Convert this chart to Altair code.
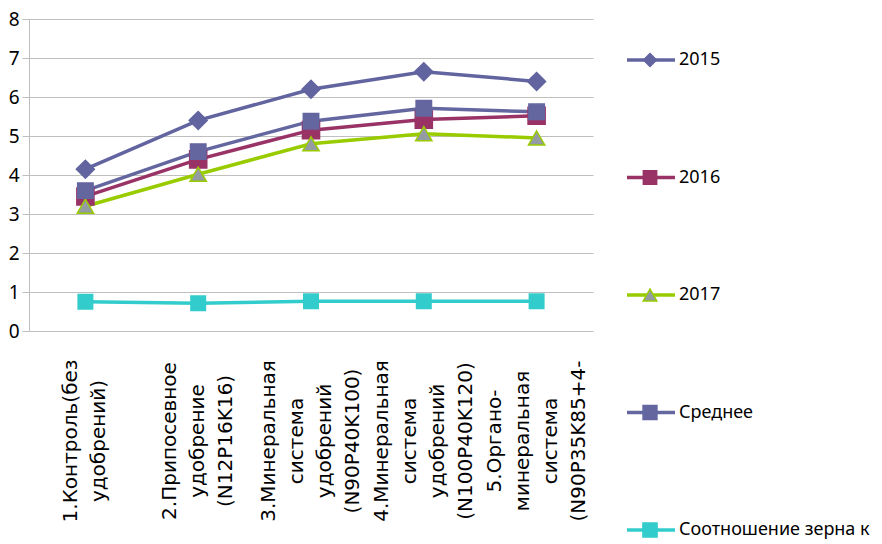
import altair as alt
import pandas as pd

# ---- data ----
label_lines = [
    ["1.Контроль(без", "удобрений)"],
    ["2.Припосевное", "удобрение", "(N12P16K16)"],
    ["3.Минеральная", "система", "удобрений", "(N90P40K100)"],
    ["4.Минеральная", "система", "удобрений", "(N100P40K120)"],
    ["5.Органо-", "минеральная", "система", "(N90P35K85+4-"],
]
categories = [" ".join(l) for l in label_lines]

series_names = ["2015", "2016", "2017", "Среднее", "Соотношение зерна к"]
v2015 = [4.15, 5.40, 6.20, 6.65, 6.40]
v2016 = [3.45, 4.40, 5.15, 5.42, 5.52]
v2017 = [3.20, 4.02, 4.80, 5.06, 4.95]
vavg = [3.60, 4.60, 5.38, 5.71, 5.62]
vratio = [0.75, 0.71, 0.76, 0.76, 0.76]
y_ticks = [0, 1, 2, 3, 4, 5, 6, 7, 8]

# ---- styles ----
line_colors = ["#6264A0", "#993366", "#99CC00", "#6466A0", "#33CCCC"]
fill_colors = ["#6264A0", "#993366", "#959BA3", "#6466A0", "#33CCCC"]
stroke_colors = ["#6264A0", "#993366", "#99CC00", "#6466A0", "#33CCCC"]
shapes = ["diamond", "square", "triangle-up", "square", "square"]
plot_sizes = [320, 210, 290, 480, 440]
legend_sizes = [170, 200, 230, 400, 400]
grid = "#BFBFBF"
LINE_STEP = 28  # spacing of the rotated label lines

rows = []
for si, (name, vals) in enumerate(zip(series_names, [v2015, v2016, v2017, vavg, vratio])):
    for c, v in zip(categories, vals):
        rows.append({"cat": c, "series": name, "value": v, "sidx": si})
df = pd.DataFrame(rows)

lab_rows = []
for c, ls in zip(categories, label_lines):
    n = len(ls)
    for k, t in enumerate(ls):
        lab_rows.append({"cat": c, "line": t, "off": (k - (n - 1) / 2) * LINE_STEP})
lab_df = pd.DataFrame(lab_rows)

line_scale = alt.Scale(domain=series_names, range=line_colors)
fill_scale = alt.Scale(domain=series_names, range=fill_colors)
stroke_scale = alt.Scale(domain=series_names, range=stroke_colors)
shape_scale = alt.Scale(domain=series_names, range=shapes)
x_scale = alt.Scale(type="band", paddingInner=0, paddingOuter=0)

x = alt.X(
    "cat:N", sort=categories, bandPosition=0.5, scale=x_scale,
    axis=alt.Axis(
        title=None, tickBand="extent", labels=False, domainColor=grid,
        tickColor=grid, tickSize=7, grid=False,
    ),
)
y = alt.Y(
    "value:Q", scale=alt.Scale(domain=[0, 8], nice=False),
    axis=alt.Axis(
        title=None, values=y_ticks, grid=True, gridColor=grid, domainColor=grid,
        tickColor=grid, tickSize=7, labelPadding=3, labelFont="Noto Sans",
        labelFontSize=19, labelColor="black", format="d",
    ),
)

lines = alt.Chart(df).mark_line(strokeWidth=3.5).encode(
    x=x, y=y, color=alt.Color("series:N", scale=line_scale, legend=None)
)
points = alt.Chart(df).mark_point(filled=True, opacity=1, strokeWidth=1.5).encode(
    x=x, y=y,
    shape=alt.Shape("series:N", scale=shape_scale, legend=None),
    size=alt.Size("series:N", scale=alt.Scale(domain=series_names, range=plot_sizes), legend=None),
    fill=alt.Fill("series:N", scale=fill_scale, legend=None),
    stroke=alt.Stroke("series:N", scale=stroke_scale, legend=None),
    order=alt.Order("sidx:Q"),
)
# category labels: rotated lines, each line offset inside its band
cat_labels = alt.Chart(lab_df).mark_text(
    angle=270, align="center", baseline="middle", font="DejaVu Sans",
    fontSize=20, color="black",
).encode(
    x=alt.X("cat:N", sort=categories, scale=x_scale, axis=None),
    xOffset=alt.XOffset("off:Q", scale=alt.Scale(domain=[-56.4, 56.4])),
    y=alt.value(422),
    text="line:N",
)
main = alt.layer(lines, points, cat_labels)

# ---- legend (drawn to the right of the plot area) ----
leg_df = pd.DataFrame({"series": series_names, "sidx": list(range(len(series_names)))})
ly = alt.Y("series:N", sort=series_names,
           scale=alt.Scale(type="point", range=[41, 511], padding=0), axis=None)
leg_rule = alt.Chart(leg_df).mark_rule(strokeWidth=3.5).encode(
    y=ly, x=alt.value(598), x2=alt.value(646),
    color=alt.Color("series:N", scale=line_scale, legend=None),
)
leg_pts = alt.Chart(leg_df).mark_point(filled=True, opacity=1, strokeWidth=1.5).encode(
    y=ly, x=alt.value(621),
    shape=alt.Shape("series:N", scale=shape_scale, legend=None),
    size=alt.Size("series:N", scale=alt.Scale(domain=series_names, range=legend_sizes), legend=None),
    fill=alt.Fill("series:N", scale=fill_scale, legend=None),
    stroke=alt.Stroke("series:N", scale=stroke_scale, legend=None),
)
leg_txt = alt.Chart(leg_df).mark_text(
    align="left", baseline="middle", font="Noto Sans", fontSize=18, color="black"
).encode(y=ly, x=alt.value(650), text="series:N")
legend_layer = alt.layer(leg_rule, leg_pts, leg_txt)

chart = alt.layer(main, legend_layer).resolve_scale(
    y="independent", size="independent"
).properties(
    width=564, height=312,
    autosize=alt.AutoSizeParams(type="none"),
    padding={"left": 21, "top": 11, "right": 281, "bottom": 213},
).configure_view(strokeWidth=0)

chart.save("out.html", embed_options={"renderer": "svg", "actions": False})
